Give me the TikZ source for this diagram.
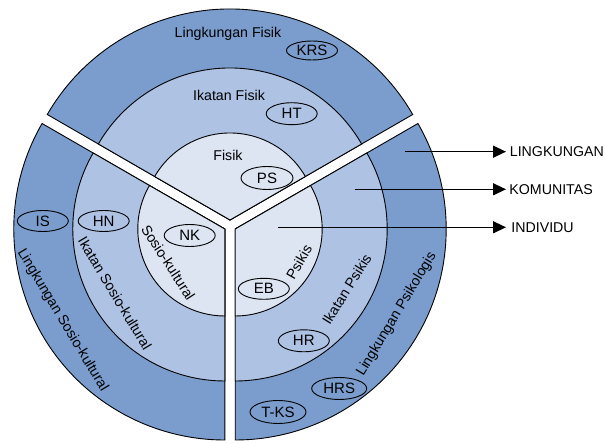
\documentclass[tikz,border=0pt]{standalone}
\usepackage{fontspec}
\setmainfont{Liberation Sans}
\usetikzlibrary{shapes.geometric,arrows.meta}
\definecolor{ringOuter}{RGB}{122,157,205}
\definecolor{ringMid}{RGB}{174,194,228}
\definecolor{ringIn}{RGB}{221,228,242}
\begin{document}
\begin{tikzpicture}[x=1pt,y=1pt,
  sectorline/.style={draw=black,line width=0.9pt,line join=miter},
  lbl/.style={font=\fontsize{14.2}{16}\selectfont, inner sep=0pt},
  tag/.style={ellipse, draw=black, line width=0.9pt, font=\fontsize{15}{17}\selectfont,
              inner sep=0pt, minimum width=51pt, minimum height=21pt},
  pointer/.style={-{Triangle[length=13pt,width=12pt]}, line width=1.4pt}]
\useasboundingbox (0,0) rectangle (606,444);
\coordinate (cT) at (230,224);
\coordinate (cL) at (224.8,215);
\coordinate (cR) at (235.2,215);
% top sector
\path[sectorline,fill=ringOuter] (cT) -- ++(30:211) arc[start angle=30,end angle=150,radius=211] -- cycle;
\path[sectorline,fill=ringMid]   (cT) -- ++(30:152) arc[start angle=30,end angle=150,radius=152] -- cycle;
\path[sectorline,fill=ringIn]    (cT) -- ++(30:87)  arc[start angle=30,end angle=150,radius=87]  -- cycle;
% left sector
\path[sectorline,fill=ringOuter] (cL) -- ++(150:211) arc[start angle=150,end angle=270,radius=211] -- cycle;
\path[sectorline,fill=ringMid]   (cL) -- ++(150:152) arc[start angle=150,end angle=270,radius=152] -- cycle;
\path[sectorline,fill=ringIn]    (cL) -- ++(150:87)  arc[start angle=150,end angle=270,radius=87]  -- cycle;
% right sector
\path[sectorline,fill=ringOuter] (cR) -- ++(-90:211) arc[start angle=-90,end angle=30,radius=211] -- cycle;
\path[sectorline,fill=ringMid]   (cR) -- ++(-90:152) arc[start angle=-90,end angle=30,radius=152] -- cycle;
\path[sectorline,fill=ringIn]    (cR) -- ++(-90:87)  arc[start angle=-90,end angle=30,radius=87]  -- cycle;
% top labels
\node[lbl] (lf) at (228,410) {Lingkungan Fisik};
\node[tag,minimum height=19pt] (krs) at (312,393.5) {KRS};
\node[lbl] (ikf) at (229,349) {Ikatan Fisik};
\node[tag,minimum height=22pt] (ht) at (291.7,330.3) {HT};
\node[lbl] (fis) at (228,288.3) {Fisik};
\node[tag,minimum width=52pt,minimum height=23pt] (ps) at (267,266) {PS};
% left labels
\node[tag] (is) at (42.8,223) {IS};
\node[tag] (hn) at (103.7,223) {HN};
\node[tag,minimum height=22pt] (nk) at (189.7,208.5) {NK};
\node[lbl,rotate=-57] (sk) at (168.3,181.5) {Sosio-kultural};
\node[lbl,rotate=-59] (isk) at (115,150.5) {Ikatan Sosio-kultural};
\node[lbl,rotate=-59] (lsk) at (62.5,123.7) {Lingkungan Sosio-kultural};
% right labels
\node[lbl,rotate=60] (psk) at (299,182) {Psikis};
\node[tag] (eb) at (263.8,155.2) {EB};
\node[lbl,rotate=58] (ikp) at (346.7,154.8) {Ikatan Psikis};
\node[tag,minimum height=22pt] (hr) at (303.8,103.2) {HR};
\node[lbl,rotate=59] (lp) at (396.7,129.8) {Lingkungan Psikologis};
\node[tag,minimum width=55pt,minimum height=22pt] (hrs) at (339.2,55.5) {HRS};
\node[tag,minimum width=56pt,minimum height=23pt] (tks) at (278,32) {T-KS};
% arrows
\coordinate (aL) at (405,292.3);
\coordinate (aK) at (354.7,254.7);
\coordinate (aI) at (278.3,216.7);
\node[lbl,anchor=west] (tL) at (509.7,292.3) {LINGKUNGAN};
\node[lbl,anchor=west] (tK) at (509.2,254.7) {KOMUNITAS};
\node[lbl,anchor=west] (tI) at (511.2,216.7) {INDIVIDU};
\draw[pointer,shorten >=3.7pt] (aL) -- (tL.west);
\draw[pointer,shorten >=3.2pt] (aK) -- (tK.west);
\draw[pointer,shorten >=5.2pt] (aI) -- (tI.west);
\end{tikzpicture}
\end{document}
